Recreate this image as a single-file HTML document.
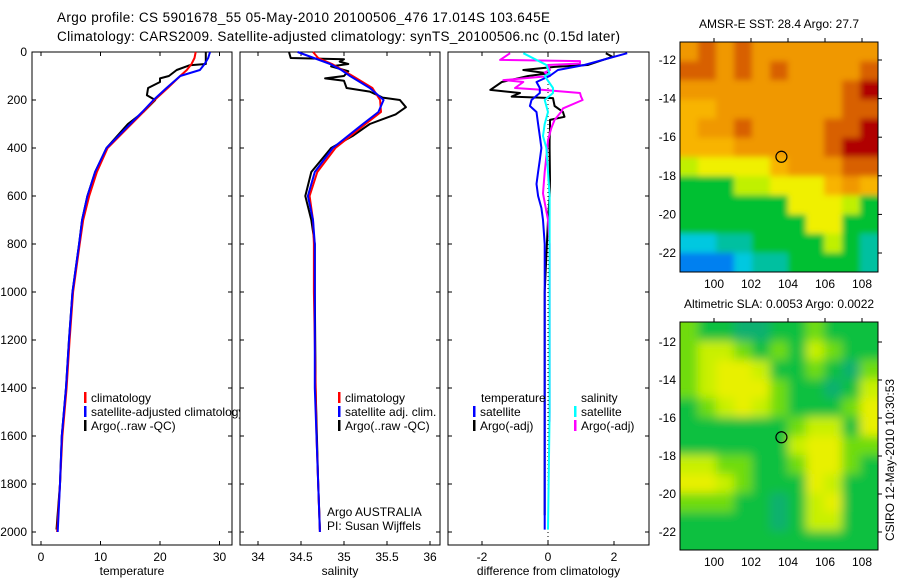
<!DOCTYPE html>
<html><head><meta charset="utf-8"><style>
html,body{margin:0;padding:0;background:#fff}
svg{display:block;font-family:"Liberation Sans",sans-serif}
text{font-size:12px;fill:#000}
</style></head><body>
<svg id="fig" width="900" height="580" viewBox="0 0 900 580">
<defs>
<filter id="b1" x="-10%" y="-10%" width="120%" height="120%"><feGaussianBlur stdDeviation="3"/></filter>
<filter id="b2" x="-10%" y="-10%" width="120%" height="120%"><feGaussianBlur stdDeviation="5"/></filter>
<clipPath id="c1"><rect x="680" y="42" width="198" height="230"/></clipPath>
<clipPath id="c2"><rect x="680" y="322" width="198" height="228"/></clipPath>
<clipPath id="cp1"><rect x="32" y="0" width="208" height="580"/></clipPath>
</defs>
<text x="57" y="22" style="font-size:13.5px" textLength="493">Argo profile: CS 5901678_55 05-May-2010 20100506_476 17.014S 103.645E</text>
<text x="57" y="41" style="font-size:13.5px" textLength="563">Climatology: CARS2009. Satellite-adjusted climatology: synTS_20100506.nc (0.15d later)</text>
<g id="plots"></g>
<g id="maps"></g>
<text transform="translate(894,460) rotate(-90)" text-anchor="middle">CSIRO 12-May-2010 10:30:53</text>
</svg>
<script>
// ---- data ----
const climDepth=[0,25,50,75,100,150,200,250,300,400,500,600,700,800,1000,1200,1400,1600,1800,2000];
const satT=[28.4,28.1,27.5,26.7,23.4,21.1,18.9,17,15,11,9.1,7.8,6.9,6.4,5.3,4.7,4.2,3.5,3.2,2.8];
const climT=[26,25.8,25.3,24.5,23.4,21.3,19.1,17.2,15.2,11.2,9.4,8.1,7.1,6.5,5.4,4.8,4.3,3.6,3.2,2.7];
const argoTDepth=[0,20,50,55,75,100,110,125,150,180,200,250,300,400,500,600,700,800,1000,1200,1400,1600,1800,1990];
const argoT=[27.7,27.7,27.7,25,22.8,21.5,20,20,18,17.8,19.2,17.2,14.6,11,9.1,7.8,6.9,6.4,5.3,4.7,4.2,3.5,3.2,2.6];
const satS=[34.46,34.65,34.84,34.97,35.07,35.3,35.46,35.4,35.22,34.87,34.66,34.58,34.64,34.66,34.66,34.66,34.66,34.68,34.7,34.72];
const climS=[34.64,34.7,34.86,34.98,35.1,35.33,35.42,35.43,35.25,34.9,34.69,34.6,34.64,34.65,34.65,34.66,34.67,34.68,34.7,34.72];
const argoSDepth=[0,25,30,40,50,60,80,100,110,120,150,165,190,200,230,260,300,350,400,500,600,700,800,1000,1400,1800,1990];
const argoS=[34.36,34.38,35.0,34.95,35.05,34.85,35.05,35.0,34.78,35.0,35.03,35.3,35.45,35.65,35.72,35.6,35.3,35.1,34.85,34.62,34.55,34.62,34.66,34.66,34.67,34.7,34.72];
const satTdDepth=[5,54,75,100,125,150,171,200,225,250,300,350,400,450,500,550,600,650,700,800,1000,1500,1990];
const satTd=[2.4,1.1,0.3,0.05,-0.35,-0.25,-0.25,-0.5,-0.55,-0.35,-0.3,-0.25,-0.2,-0.25,-0.3,-0.35,-0.3,-0.2,-0.15,-0.1,-0.1,-0.1,-0.1];
const satSdDepth=[5,54,89,100,150,171,200,250,300,350,400,500,600,700,1000,1500,1990];
const satSd=[-0.75,-0.05,0.05,-0.1,0.15,0.15,-0.1,0,-0.1,-0.15,-0.05,0,0.05,0.05,0.05,0.05,0.0];
const argoTdDepth=[5,20,54,62,75,89,100,125,158,171,186,192,225,249,270,283,317,367,400,533,600,700,1000,1930];
const argoTd=[1.75,1.95,1.2,0.2,-0.75,0,-0.6,-1.4,-1.75,-0.85,-1.1,0.15,0.2,0.45,0.5,0.06,0.06,0.05,0.05,0.06,0.05,0,-0.1,-0.1];
const argoSdDepth=[5,33,38,48,54,75,85,100,117,125,150,158,171,186,200,235,249,283,317,337,367,400,500,589,700,800,1000,1540];
const argoSd=[-1.15,-1.45,0.97,0.97,0,0.06,-0.1,0.06,-1.35,-0.75,-1.0,-0.15,0.97,1.0,1.05,0.45,0.4,0.2,0.1,0.06,0,-0.02,-0.1,-0.15,0,0.05,0.05,0.05];
const depthTicks=[0,200,400,600,800,1000,1200,1400,1600,1800,2000];
const tTicks=[0,10,20,30];
const sTicks=[34,34.5,35,35.5,36];
const dTicks=[-2,0,2];
const lonTicks=[100,102,104,106,108];
const latTicks=[-12,-14,-16,-18,-20,-22];

const NS='http://www.w3.org/2000/svg';
function mk(tag,attrs,parent){const e=document.createElementNS(NS,tag);for(const k in attrs)e.setAttribute(k,attrs[k]);parent.appendChild(e);return e;}
const plots=document.getElementById('plots');
const yD=d=>52+d*0.24;
const PT=545;
function panel(name,x0,x1,xs,ticks,label,showY){
  const g=mk('g',{},plots);
  
  
  const r=mk('rect',{x:x0,y:52,width:x1-x0,height:PT-52,fill:'#fff',stroke:'#000','stroke-width':1},g);
  
  
  depthTicks.forEach(d=>{
    const y=yD(d);
    mk('line',{x1:x0,x2:x0+4,y1:y,y2:y,stroke:'#000'},g);
    mk('line',{x1:x1-4,x2:x1,y1:y,y2:y,stroke:'#000'},g);
    if(showY){const t=mk('text',{x:x0-5,y:y+4,'text-anchor':'end'},g);t.textContent=d;
      
      }
  });
  ticks.forEach(v=>{
    const x=xs(v);
    mk('line',{x1:x,x2:x,y1:PT-4,y2:PT,stroke:'#000'},g);
    mk('line',{x1:x,x2:x,y1:52,y2:56,stroke:'#000'},g);
    const t=mk('text',{x:x,y:PT+16,'text-anchor':'middle'},g);t.textContent=v;
    
    
  });
  const t=mk('text',{x:(x0+x1)/2,y:PT+30,'text-anchor':'middle'},g);t.textContent=label;
  
  
  return g;
}
function line(g,depths,vals,xs,color,name){
  const pts=depths.map((d,i)=>xs(vals[i]).toFixed(1)+','+yD(d).toFixed(1)).join(' ');
  const p=mk('polyline',{points:pts,fill:'none',stroke:color,'stroke-width':2,'stroke-linejoin':'round'},g);
  
  
}
function legend(g,x,y,color,text,name){
  mk('rect',{x:x,y:y-10,width:2.5,height:11,fill:color},g);
  const t=mk('text',{x:x+7,y:y},g);t.textContent=text;
  
  
}
const xT=v=>41+v*5.95, xS=v=>258+(v-34)*86, xDf=v=>548+v*33;
const g1=panel('temperature-panel',32,232,xT,tTicks,'temperature',true);
line(g1,argoTDepth,argoT,xT,'#000','argo-temperature-line');
line(g1,climDepth,climT,xT,'#f00','climatology-temperature-line');
line(g1,climDepth,satT,xT,'#00f','satellite-temperature-line');
const g2=panel('salinity-panel',240,440,xS,sTicks,'salinity',false);
line(g2,argoSDepth,argoS,xS,'#000','argo-salinity-line');
line(g2,climDepth,climS,xS,'#f00','climatology-salinity-line');
line(g2,climDepth,satS,xS,'#00f','satellite-salinity-line');
const g3=panel('difference-panel',448,649,xDf,dTicks,'difference from climatology',false);
mk('line',{x1:548,x2:548,y1:52,y2:PT,stroke:'#000','stroke-dasharray':'1,3'},g3);
line(g3,argoTdDepth,argoTd,xDf,'#000','argo-temperature-diff-line');
line(g3,argoSdDepth,argoSd,xDf,'#f0f','argo-salinity-diff-line');
line(g3,satTdDepth,satTd,xDf,'#00f','satellite-temperature-diff-line');
line(g3,satSdDepth,satSd,xDf,'#0ff','satellite-salinity-diff-line');
// legends
const lg1=mk('g',{'clip-path':'url(#cp1)'},plots);


legend(lg1,84,402,'#f00','climatology','legend-climatology');
legend(lg1,84,416,'#00f','satellite-adjusted climatology','legend-satellite');
legend(lg1,84,430,'#000','Argo(..raw -QC)','legend-argo');
legend(plots,338,402,'#f00','climatology','legend-sal-climatology');
legend(plots,338,416,'#00f','satellite adj. clim.','legend-sal-satellite');
legend(plots,338,430,'#000','Argo(..raw -QC)','legend-sal-argo');
(function(){const t=mk('text',{x:327,y:516},plots);t.textContent='Argo AUSTRALIA';

const t2=mk('text',{x:327,y:530},plots);t2.textContent='PI: Susan Wijffels';

const t3=mk('text',{x:481,y:402},plots);t3.textContent='temperature';

const t4=mk('text',{x:581,y:402},plots);t4.textContent='salinity';
})();
legend(plots,473,416,'#00f','satellite','legend-diff-temp-satellite');
legend(plots,473,430,'#000','Argo(-adj)','legend-diff-temp-argo');
legend(plots,574,416,'#0ff','satellite','legend-diff-sal-satellite');
legend(plots,574,430,'#f0f','Argo(-adj)','legend-diff-sal-argo');

// ---- maps ----
const pal1={R:'#b00000',D:'#d86000',O:'#f09800',o:'#f8b400',Y:'#f0f000',y:'#c0f000',G:'#00c030',C:'#00c0a0',c:'#00c8e0',B:'#0080f0'};
const grid1=["ODODOOOOOOO","DDODODOOOOD","OOOOOOOOODR","ooOOOOOOODD","oOODOOOODDR","oooOOOOODRR","yYYYYoOOODD","GGGyyYYYoOo","GGGGGGYYYyG","GGGGGGGYYGG","ccCCGGGGyGC","BBBcCCGGGGC"];
const pal2={G:'#10c040',g:'#70dc10',y:'#c8f000',Y:'#e8f000',T:'#10b070'};
const grid2=["gGGTTGGgGGG","gyygGgGygGG","gyYYyGGgGTg","gyYYYgGGTGy","GgyYygGGGgY","GGGGGGgyyGY","GGGGGGyYYgg","yyggGGgYYgG","YYygGGGYyGG","gggGGTGyYGG","GGGGGTGyyGG","GGGGGGGGGGG"];
const maps=document.getElementById('maps');
function map(name,title,y0,y1,lat12y,grid,pal,clip,blur){
  const g=mk('g',{},maps);
  
  
  const x0=680,x1=878;
  const lonX=l=>714+(l-100)*18.5;
  const latY=l=>lat12y+(-12-l)*(y1===272?19.3:19);
  const cw=(x1-x0)/11,ch=(y1-y0)/12;
  const cg=mk('g',{'clip-path':clip},g);
  const bg=mk('g',{filter:blur},cg);
  for(let r=-1;r<=12;r++)for(let k=-1;k<=11;k++){
    const rr=Math.max(0,Math.min(11,r)),kk=Math.max(0,Math.min(10,k));
    mk('rect',{x:x0+k*cw,y:y0+r*ch,width:cw+0.5,height:ch+0.5,fill:pal[grid[rr][kk]]},bg);
  }
  const f=mk('rect',{x:x0,y:y0,width:x1-x0,height:y1-y0,fill:'none',stroke:'#000'},g);
  
  
  lonTicks.forEach(l=>{const x=lonX(l);
    mk('line',{x1:x,x2:x,y1:y0-4,y2:y0,stroke:'#000'},g);
    const t=mk('text',{x:x,y:y1+16,'text-anchor':'middle'},g);t.textContent=l;
    });
  latTicks.forEach(l=>{const y=latY(l);
    mk('line',{x1:x1,x2:x1+4,y1:y,y2:y,stroke:'#000'},g);
    const t=mk('text',{x:x0-4,y:y+4,'text-anchor':'end'},g);t.textContent=l;
    });
  const c=mk('circle',{cx:lonX(103.645),cy:latY(-17.014),r:5.5,fill:'none',stroke:'#000','stroke-width':1.2},g);
  
  
  const t=mk('text',{x:(x0+x1)/2,y:y0-14,'text-anchor':'middle'},g);t.textContent=title;
  
}
map('sst-map','AMSR-E SST: 28.4  Argo: 27.7',42,272,60,grid1,pal1,'url(#c1)','url(#b1)');
map('sla-map','Altimetric SLA: 0.0053  Argo: 0.0022',322,550,342,grid2,pal2,'url(#c2)','url(#b2)');
</script>
</body></html>
